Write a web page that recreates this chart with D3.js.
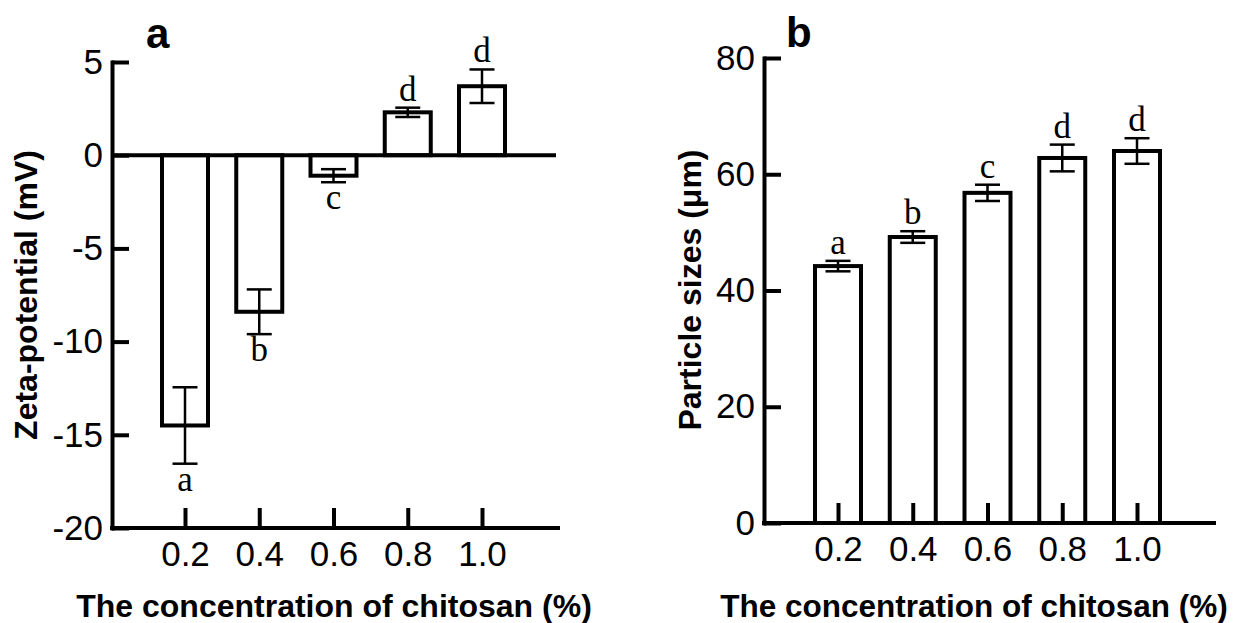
<!DOCTYPE html>
<html>
<head>
<meta charset="utf-8">
<script src="https://cdn.jsdelivr.net/npm/d3@7"></script>
<style>
  html, body { margin: 0; padding: 0; background: #fff; }
  svg { display: block; }
</style>
</head>
<body>
<svg id="chart" width="1236" height="623"></svg>
<script>
// ---- Data ----
const categories = ["0.2", "0.4", "0.6", "0.8", "1.0"];

const zetaMean = [-14.5, -8.4, -1.1, 2.3, 3.7];
const zetaErr = [2.05, 1.2, 0.35, 0.25, 0.9];
const zetaLetters = ["a", "b", "c", "d", "d"];
const zetaTicks = [5, 0, -5, -10, -15, -20];

const sizeMean = [44.2, 49.2, 56.8, 62.8, 64.0];
const sizeErr = [0.9, 1.0, 1.4, 2.3, 2.2];
const sizeLetters = ["a", "b", "c", "d", "d"];
const sizeTicks = [0, 20, 40, 60, 80];

const xTitle = "The concentration of chitosan (%)";
const zetaTitle = "Zeta-potential (mV)";
const sizeTitle = "Particle sizes (\u03bcm)";

// ---- Drawing ----
const svg = d3.select("#chart");
const SANS = "'Liberation Sans', Arial, sans-serif";
const SERIF = "'Liberation Serif', 'Times New Roman', serif";
const AXW = 4;

function panel(cfg) {
  const g = svg.append("g");
  const y = d3.scaleLinear().domain(cfg.domain).range([cfg.bottom, cfg.top]);
  const x = d3.scalePoint().domain(categories).range([cfg.firstX, cfg.lastX]);
  const data = categories.map((c, i) => ({ c, m: cfg.mean[i], e: cfg.err[i], l: cfg.letters[i] }));
  const base = y(cfg.baseVal);

  // bars
  g.selectAll("rect.bar").data(data).enter().append("rect")
    .attr("class", "bar")
    .attr("x", d => x(d.c) - cfg.barW / 2)
    .attr("width", cfg.barW)
    .attr("y", d => Math.min(y(d.m), base))
    .attr("height", d => Math.abs(y(d.m) - base))
    .attr("fill", "#fff").attr("stroke", "#000").attr("stroke-width", AXW);

  // error bars
  const eb = g.selectAll("g.eb").data(data).enter().append("g").attr("class", "eb")
    .attr("stroke", "#000").attr("stroke-width", 2.5);
  eb.append("line").attr("x1", d => x(d.c)).attr("x2", d => x(d.c))
    .attr("y1", d => y(d.m - d.e)).attr("y2", d => y(d.m + d.e));
  eb.append("line").attr("x1", d => x(d.c) - cfg.capW / 2).attr("x2", d => x(d.c) + cfg.capW / 2)
    .attr("y1", d => y(d.m + d.e)).attr("y2", d => y(d.m + d.e));
  eb.append("line").attr("x1", d => x(d.c) - cfg.capW / 2).attr("x2", d => x(d.c) + cfg.capW / 2)
    .attr("y1", d => y(d.m - d.e)).attr("y2", d => y(d.m - d.e));

  // significance letters
  g.selectAll("text.sig").data(data).enter().append("text")
    .attr("class", "sig")
    .attr("x", d => x(d.c))
    .attr("y", d => d.m >= 0 ? y(d.m + d.e) - 7 : y(d.m - d.e) + 27)
    .attr("text-anchor", "middle")
    .style("font-family", SERIF).style("font-size", "35px")
    .text(d => d.l);

  // zero line (panel a)
  if (cfg.zeroLine) {
    g.append("line").attr("x1", cfg.left).attr("x2", cfg.zeroRight)
      .attr("y1", y(0)).attr("y2", y(0))
      .attr("stroke", "#000").attr("stroke-width", AXW);
  }

  // y axis
  const ya = g.append("g").attr("transform", `translate(${cfg.left},0)`)
    .call(d3.axisLeft(y).tickValues(cfg.ticks).tickFormat(d => String(d))
      .tickSizeInner(-17).tickSizeOuter(0).tickPadding(9));
  ya.select(".domain").attr("stroke-width", AXW).attr("stroke-linecap", "square");
  ya.selectAll(".tick line").attr("stroke-width", AXW);
  ya.selectAll(".tick text").style("font-family", SANS).style("font-size", "35px").attr("fill", "#000");

  // x axis
  const xa = g.append("g").attr("transform", `translate(0,${cfg.bottom})`)
    .call(d3.axisBottom(x).tickSizeInner(-20).tickSizeOuter(0).tickPadding(13));
  xa.select(".domain").remove();
  xa.selectAll(".tick line").attr("stroke-width", AXW);
  xa.selectAll(".tick text").style("font-family", SANS).style("font-size", "35px").attr("fill", "#000");
  g.append("line").attr("x1", cfg.left).attr("x2", cfg.right)
    .attr("y1", cfg.bottom).attr("y2", cfg.bottom)
    .attr("stroke", "#000").attr("stroke-width", AXW).attr("stroke-linecap", "square");

  // titles
  g.append("text").attr("x", cfg.xTitleX).attr("y", 617)
    .attr("text-anchor", "middle")
    .style("font-family", SANS).style("font-size", cfg.xTitleSize).style("font-weight", "bold")
    .text(xTitle);
  g.append("text")
    .attr("transform", `translate(${cfg.yTitleX},${cfg.yTitleY}) rotate(-90)`)
    .attr("text-anchor", "middle")
    .style("font-family", SANS).style("font-size", "32px").style("font-weight", "bold")
    .text(cfg.yTitle);
  g.append("text").attr("x", cfg.labelX).attr("y", cfg.labelY)
    .style("font-family", SANS).style("font-size", "42px").style("font-weight", "bold")
    .text(cfg.label);
}

panel({
  domain: [-20, 5], top: 62, bottom: 528, left: 112, right: 558, zeroRight: 556,
  firstX: 185, lastX: 482, barW: 46, capW: 25, baseVal: 0, zeroLine: true,
  mean: zetaMean, err: zetaErr, letters: zetaLetters, ticks: zetaTicks,
  xTitleX: 334, xTitleSize: "32px", yTitleX: 37, yTitleY: 295, yTitle: zetaTitle,
  label: "a", labelX: 146, labelY: 48
});

panel({
  domain: [0, 80], top: 58, bottom: 523, left: 764, right: 1214,
  firstX: 838, lastX: 1137, barW: 46, capW: 25, baseVal: 0, zeroLine: false,
  mean: sizeMean, err: sizeErr, letters: sizeLetters, ticks: sizeTicks,
  xTitleX: 974, xTitleSize: "31.5px", yTitleX: 701, yTitleY: 290, yTitle: sizeTitle,
  label: "b", labelX: 786, labelY: 47
});
</script>
</body>
</html>
